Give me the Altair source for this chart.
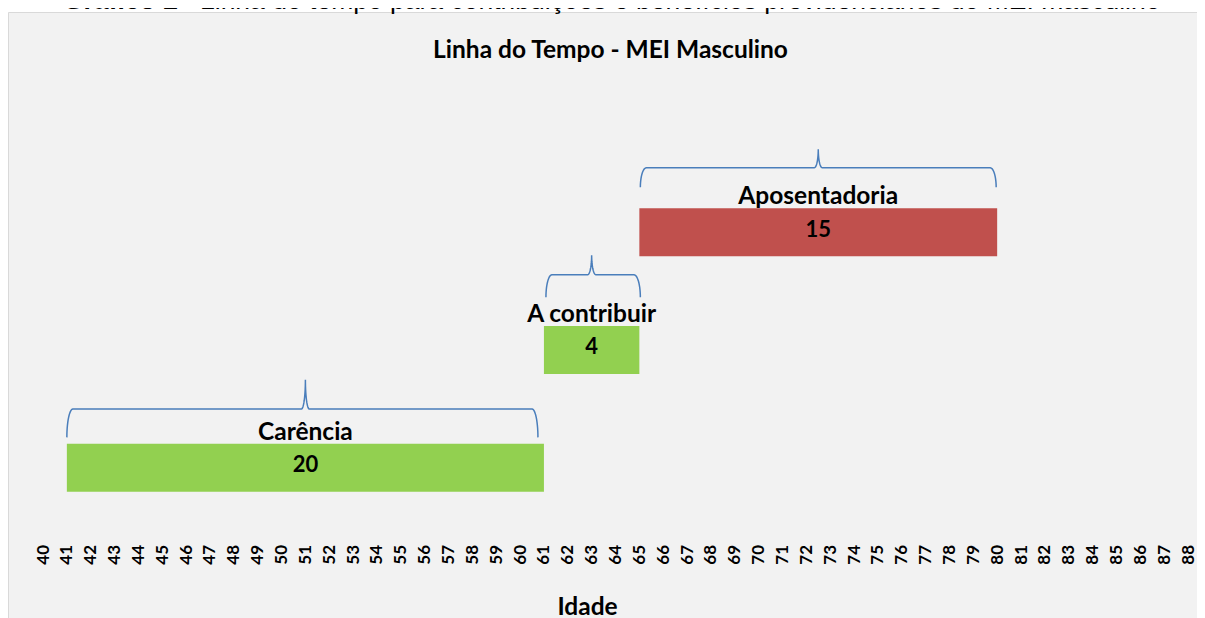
import math
import altair as alt
import pandas as pd

# ---------------- data ----------------
phases = ["Carência", "A contribuir", "Aposentadoria"]
start_age = [41, 61, 65]
duration = [20, 4, 15]
row = [1, 2, 3]
bar_colors = ["#92d050", "#92d050", "#c0504d"]
ages = list(range(40, 89))

caption_bold = "Gráfico 2 - "
caption_rest = "Linha do tempo para contribuições e benefícios previdenciários do MEI masculino"
chart_title = "Linha do Tempo - MEI Masculino"
x_title = "Idade"

# ---------------- layout / style ----------------
W, H = 1145, 422
PAD = {"left": 35, "top": 101.5, "right": 9, "bottom": 86.5}
X_DOMAIN = [40, 88]
Y_DOMAIN = [0.5, 4.0]
BAR_PX = 48
PX_X = W / (X_DOMAIN[1] - X_DOMAIN[0])
PX_Y = H / (Y_DOMAIN[1] - Y_DOMAIN[0])
FONT = "Lato"
BRACE_COLOR = "#4a7ebb"
PANEL = "#f2f2f2"
BORDER = "#d9d9d9"
LABEL_SIZE = 24.5

df = pd.DataFrame({"fase": phases, "inicio": start_age, "duracao": duration,
                   "linha": row, "cor": bar_colors})
df["fim"] = df["inicio"] + df["duracao"]
df["meio"] = (df["inicio"] + df["fim"]) / 2

# brace decoration geometry (pixels above bar top: ends, line, tip) and x insets
brace_px = [(7, 36, 66), (30, 53, 73), (22, 42, 61)]
brace_inset = [(0, 6), (2, -1), (1, 1)]
R_END, R_MID, NSEG = 6.0, 4.0, 14

pts = []
for b, (s, e, r) in enumerate(zip(df["inicio"], df["fim"], df["linha"])):
    ye, yl, yt = [BAR_PX / 2 + v for v in brace_px[b]]
    x0 = s + brace_inset[b][0] / PX_X
    x1 = e - brace_inset[b][1] / PX_X
    xm = (s + e) / 2
    half = []
    for k in range(NSEG + 1):
        t = math.pi / 2 * k / NSEG
        half.append((x0 + (R_END - R_END * math.cos(t)) / PX_X, ye + (yl - ye) * math.sin(t)))
    for k in range(NSEG + 1):
        t = math.pi / 2 * k / NSEG
        half.append((xm + (-R_MID + R_MID * math.sin(t)) / PX_X, yt - (yt - yl) * math.cos(t)))
    right = []
    for (hx, hy) in reversed(half):
        right.append((x1 - (hx - x0) * (x1 - xm) / (xm - x0), hy))
    full = half + right
    for i, (px, py) in enumerate(full):
        pts.append({"brace": b, "i": i, "bx": px, "by": r + py / PX_Y})
brace_df = pd.DataFrame(pts)

xscale = alt.Scale(domain=X_DOMAIN, nice=False, zero=False)
yscale = alt.Scale(domain=Y_DOMAIN, nice=False, zero=False)
xaxis = alt.Axis(values=ages, labelAngle=-90, labelFont=FONT, labelFontWeight="bold",
                 labelFontSize=17, labelColor="black", labelPadding=13, domain=False,
                 ticks=False, grid=False, labelOverlap=False, title=x_title,
                 titleFont=FONT, titleFontWeight="bold", titleFontSize=LABEL_SIZE,
                 titleColor="black", titleX=544, titleY=82.5, titleBaseline="alphabetic",
                 zindex=2)

def X(field):
    return alt.X(field, type="quantitative", scale=xscale, axis=xaxis)

def Y(field):
    return alt.Y(field, type="quantitative", scale=yscale, axis=None)

one = alt.Data(values=[{}])

# white strip above the grey chart area, and the chart-area border
strip = alt.Chart(one).mark_rect(fill="white").encode(
    x=alt.value(-PAD["left"]), x2=alt.value(W + PAD["right"] + 20),
    y=alt.value(-PAD["top"]), y2=alt.value(-PAD["top"] + 4.5))
border = alt.Chart(one).mark_rect(fill="transparent", stroke=BORDER, strokeWidth=1).encode(
    x=alt.value(-PAD["left"] + 0.5), x2=alt.value(W + 60),
    y=alt.value(-PAD["top"] + 4.5), y2=alt.value(H + 200))

braces = alt.Chart(brace_df).mark_line(color=BRACE_COLOR, strokeWidth=1.5).encode(
    x=X("bx"), y=Y("by"), detail="brace:N", order="i:Q")

bars = alt.Chart(df).mark_bar(size=BAR_PX).encode(
    x=X("inicio"), x2="fim", y=Y("linha"), color=alt.Color("cor:N", scale=None))

names = alt.Chart(df).mark_text(font=FONT, fontWeight="bold", fontSize=LABEL_SIZE, color="black",
                                baseline="alphabetic", dy=-28).encode(
    x=X("meio"), y=Y("linha"), text="fase:N")

values = alt.Chart(df).mark_text(font=FONT, fontWeight="bold", fontSize=22, color="black",
                                 baseline="alphabetic", dy=4.5).encode(
    x=X("meio"), y=Y("linha"), text="duracao:Q")

title_mark = alt.Chart(one).mark_text(text=chart_title, font=FONT, fontWeight="bold",
                                      fontSize=LABEL_SIZE, color="black", align="center",
                                      baseline="alphabetic").encode(
    x=alt.value(610.5 - 8 - PAD["left"]), y=alt.value(58 - 8 - PAD["top"]))

cap1 = alt.Chart(one).mark_text(text=caption_bold, font="Liberation Sans", fontWeight="bold",
                                fontSize=26.5, color="black", align="left",
                                baseline="alphabetic").encode(
    x=alt.value(63 - 8 - PAD["left"]), y=alt.value(-PAD["top"] + 0.5))
cap2 = alt.Chart(one).mark_text(text=caption_rest, font="Liberation Sans", fontSize=26.5,
                                color="black", align="left", baseline="alphabetic").encode(
    x=alt.value(200 - 8 - PAD["left"]), y=alt.value(-PAD["top"] + 0.5))

chart = alt.layer(strip, border, braces, bars, names, values, title_mark, cap1, cap2).properties(
    width=W, height=H, padding=PAD, autosize="none", background=PANEL,
).configure_view(stroke=None)

chart.save("out.html", embed_options={"renderer": "svg", "actions": False})
